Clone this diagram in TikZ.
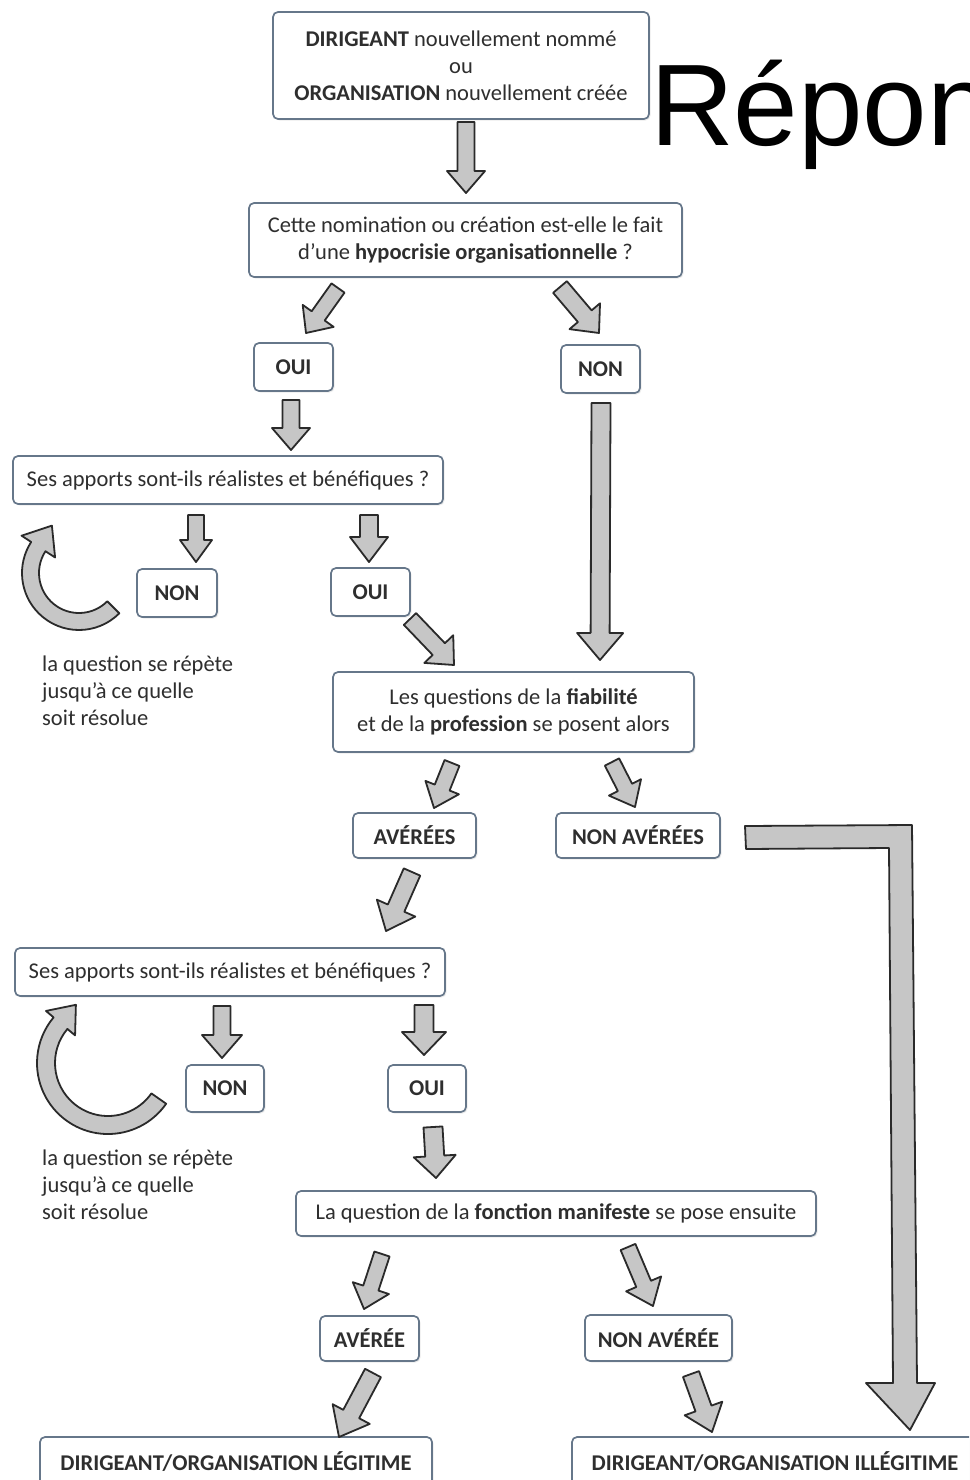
\documentclass[tikz,border=0pt]{standalone}
\usepackage{fontspec}
\setmainfont{Carlito}
\newfontfamily\arialfont{Liberation Sans}
\usetikzlibrary{calc,shadows}
\definecolor{boxline}{HTML}{66778A}
\definecolor{txt}{HTML}{2E2E2E}
\definecolor{arrfill}{HTML}{C6C6C6}
\definecolor{arrline}{HTML}{2A2A2A}
\tikzset{
  box/.style={draw=boxline, line width=1.7pt, rounded corners=5pt, fill=white,
    align=center, text=txt, font=\fontsize{22.5}{27}\selectfont, inner sep=0pt,
    drop shadow={opacity=0.15, shadow xshift=1.5pt, shadow yshift=-1.5pt}},
  blockarrow/.style={fill=arrfill, draw=arrline, line width=1.8pt, line join=round},
  note/.style={text=txt, font=\fontsize{22.5}{27}\selectfont, inner sep=0pt, anchor=base west},
}
% block arrow between two named coordinates: start, end, shaft half width, head half width, head length
\newcommand\barrow[5]{%
  \pgfpointanchor{#1}{center}\pgfgetlastxy{\bax}{\bay}%
  \pgfpointanchor{#2}{center}\pgfgetlastxy{\bbx}{\bby}%
  \pgfmathsetmacro\baang{atan2((\bby)-(\bay),(\bbx)-(\bax))}%
  \pgfmathsetmacro\balen{veclen((\bbx)-(\bax),(\bby)-(\bay))}%
  \pgfmathsetmacro\bahb{\balen-#5}%
  \begin{scope}[shift={(\bax,\bay)},rotate=\baang]
    \draw[blockarrow] (0pt,#3pt) -- (\bahb pt,#3pt) -- (\bahb pt,#4pt) -- (\balen pt,0pt)
      -- (\bahb pt,-#4pt) -- (\bahb pt,-#3pt) -- (0pt,-#3pt) -- cycle;
  \end{scope}}
\begin{document}
\begin{tikzpicture}[x=1pt,y=-1pt]
\useasboundingbox (0,0) rectangle (969,1480);
\clip (0,0) rectangle (969,1480);
\fill[white] (0,0) rectangle (969,1480);

% title fragment (cut by the right edge, as in the reference)
\node[inner sep=0pt, anchor=base west, font=\arialfont\fontsize{116}{124}\selectfont] (title) at (650,145) {Réponse};

% boxes
\node[box, minimum width=376pt, minimum height=107pt] (top) at (461,65.5)
  {\textbf{DIRIGEANT} nouvellement nommé\\ou\\\textbf{ORGANISATION} nouvellement créée};
\node[box, minimum width=433pt, minimum height=74pt] (q1) at (465.5,240)
  {Cette nomination ou création est-elle le fait\\d’une \textbf{hypocrisie organisationnelle} ?};
\node[box, minimum width=79pt, minimum height=48pt] (oui1) at (293.5,367) {\textbf{OUI}};
\node[box, minimum width=79pt, minimum height=48pt] (non1) at (600.5,369) {\textbf{NON}};
\node[box, minimum width=430pt, minimum height=48pt] (q2) at (228,480)
  {Ses apports sont-ils réalistes et bénéfiques ?};
\node[box, minimum width=80pt, minimum height=48pt] (non2) at (177,593) {\textbf{NON}};
\node[box, minimum width=79pt, minimum height=48pt] (oui2) at (370.5,592) {\textbf{OUI}};
\node[box, minimum width=361pt, minimum height=80pt] (q3) at (513.5,712)
  {Les questions de la \textbf{fiabilité}\\et de la \textbf{profession} se posent alors};
\node[box, minimum width=123pt, minimum height=45pt] (av1) at (414.5,835.5) {\textbf{AVÉRÉES}};
\node[box, minimum width=164pt, minimum height=45pt] (nav1) at (638,835.5) {\textbf{NON AVÉRÉES}};
\node[box, minimum width=430pt, minimum height=48pt] (q4) at (230,972)
  {Ses apports sont-ils réalistes et bénéfiques ?};
\node[box, minimum width=78pt, minimum height=47pt] (non3) at (225,1088.5) {\textbf{NON}};
\node[box, minimum width=78pt, minimum height=47pt] (oui3) at (427,1088.5) {\textbf{OUI}};
\node[box, minimum width=520pt, minimum height=45pt] (q5) at (556,1213.5)
  {La question de la \textbf{fonction manifeste} se pose ensuite};
\node[box, minimum width=99pt, minimum height=45pt] (av2) at (369.5,1338.5) {\textbf{AVÉRÉE}};
\node[box, minimum width=147pt, minimum height=46pt] (nav2) at (658.5,1338) {\textbf{NON AVÉRÉE}};
\node[box, minimum width=392pt, minimum height=50pt] (leg) at (236,1462)
  {\textbf{DIRIGEANT/ORGANISATION LÉGITIME}};
\node[box, minimum width=406pt, minimum height=50pt] (ill) at (775,1462)
  {\textbf{DIRIGEANT/ORGANISATION ILLÉGITIME}};

% notes
\node[note] (r1a) at (42,671) {la question se répète};
\node[note] (r1b) at (42,698) {jusqu'à ce quelle};
\node[note] (r1c) at (42,725) {soit résolue};
\node[note] (r2a) at (42,1165) {la question se répète};
\node[note] (r2b) at (42,1192) {jusqu’à ce quelle};
\node[note] (r2c) at (42,1219) {soit résolue};

% arrow end points
\coordinate (a1s) at (466,122);  \coordinate (a1e) at (466,193);
\coordinate (a2s) at (338,288);  \coordinate (a2e) at (306,333);
\coordinate (a3s) at (560,287);  \coordinate (a3e) at (599,333);
\coordinate (a4s) at (291,400);  \coordinate (a4e) at (291,450);
\coordinate (a5s) at (601,403);  \coordinate (a5e) at (600,660);
\coordinate (a6s) at (196,515);  \coordinate (a6e) at (196,562);
\coordinate (a7s) at (369,515);  \coordinate (a7e) at (369,562);
\coordinate (a8s) at (410,619);  \coordinate (a8e) at (454,665);
\coordinate (a9s) at (452,763);  \coordinate (a9e) at (434,808);
\coordinate (a10s) at (612,762); \coordinate (a10e) at (635,807);
\coordinate (a11s) at (412,872); \coordinate (a11e) at (386,931);
\coordinate (a12s) at (222,1006); \coordinate (a12e) at (222,1058);
\coordinate (a13s) at (424,1005); \coordinate (a13e) at (424,1055);
\coordinate (a14s) at (433,1127); \coordinate (a14e) at (436,1178);
\coordinate (a15s) at (382,1254); \coordinate (a15e) at (364,1309);
\coordinate (a16s) at (628,1247); \coordinate (a16e) at (653,1306);
\coordinate (a17s) at (373,1373); \coordinate (a17e) at (339,1437);
\coordinate (a18s) at (691,1374); \coordinate (a18e) at (712,1432);

\barrow{a1s}{a1e}{8.5}{19}{22}
\barrow{a2s}{a2e}{8}{19}{21}
\barrow{a3s}{a3e}{9}{20}{22}
\barrow{a4s}{a4e}{8.5}{19}{22}
\barrow{a5s}{a5e}{9.5}{23}{27}
\barrow{a6s}{a6e}{8}{16}{22}
\barrow{a7s}{a7e}{9}{19}{25}
\barrow{a8s}{a8e}{8.5}{20}{22}
\barrow{a9s}{a9e}{8}{18}{22}
\barrow{a10s}{a10e}{8}{18}{22}
\barrow{a11s}{a11e}{9}{21}{25}
\barrow{a12s}{a12e}{8.5}{20}{23}
\barrow{a13s}{a13e}{9.5}{22}{23}
\barrow{a14s}{a14e}{9.5}{21}{22}
\barrow{a15s}{a15e}{8}{19}{22}
\barrow{a16s}{a16e}{8}{19}{24}
\barrow{a17s}{a17e}{9}{21}{26}
\barrow{a18s}{a18e}{8.5}{20}{25}

% L-shaped arrow from NON AVEREES to ILLEGITIME
\coordinate (Ls) at (745,837);
\coordinate (Lc) at (900,837);
\coordinate (Le) at (910,1430);
\draw[blockarrow] (745,826) -- (912,825) -- (917,1383) -- (935,1383) -- (Le)
  -- (866,1383) -- (893,1383) -- (889,848) -- (746,849) -- cycle;

% curved arrows
\coordinate (c1) at (79,573);
\begin{scope}[shift={(c1)}]
  \draw[blockarrow] (-45:57pt) arc[start angle=-45, end angle=-213, radius=57pt]
    -- (147:68.5pt) -- (-27.1pt,47.4pt) -- (147:28.5pt) -- (147:40pt)
    arc[start angle=-213, end angle=-45, radius=40pt] -- cycle;
\end{scope}
\coordinate (c2) at (108,1063);
\begin{scope}[shift={(c2)}]
  \draw[blockarrow] (-35:71pt) arc[start angle=-35, end angle=-220, radius=71pt]
    -- (140:81pt) -- (-32.1pt,58.2pt) -- (140:43pt) -- (140:53pt)
    arc[start angle=-220, end angle=-35, radius=53pt] -- cycle;
\end{scope}
\end{tikzpicture}
\end{document}
